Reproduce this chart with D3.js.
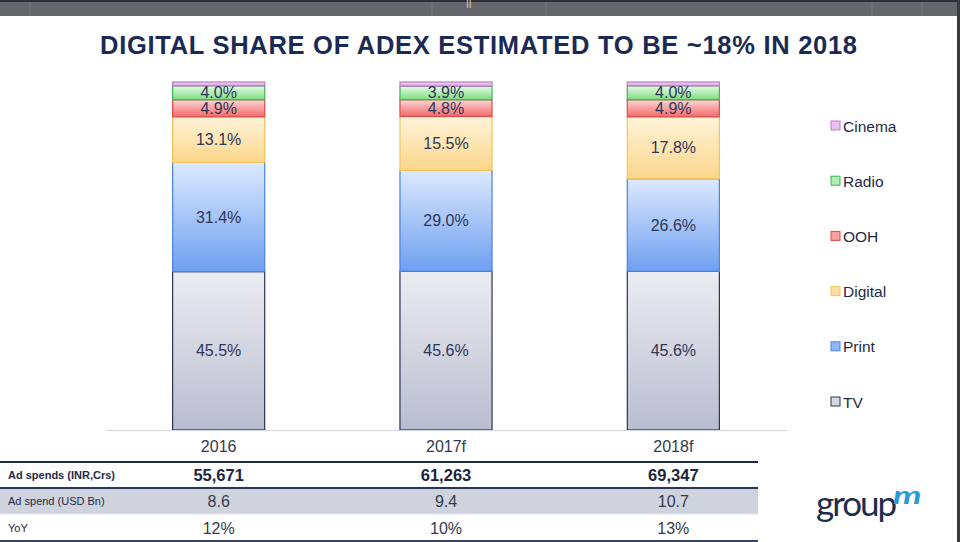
<!DOCTYPE html>
<html><head><meta charset="utf-8">
<script src="https://cdn.jsdelivr.net/npm/d3@7/dist/d3.min.js"></script>
<style>
html,body{margin:0;padding:0;background:#fff;}
svg{display:block;font-family:"Liberation Sans",Arial,sans-serif;}
</style></head>
<body><svg id="c" width="960" height="542"></svg>
<script>
const categories = ["2016", "2017f", "2018f"];
const seriesNames = ["TV", "Print", "Digital", "OOH", "Radio", "Cinema"];
const tv      = [45.5, 45.6, 45.6];
const print   = [31.4, 29.0, 26.6];
const digital = [13.1, 15.5, 17.8];
const ooh     = [4.9, 4.8, 4.9];
const radio   = [4.0, 3.9, 4.0];
const cinema  = [1.1, 1.2, 1.1];
const rowLabels = ["Ad spends (INR,Crs)", "Ad spend (USD Bn)", "YoY"];
const adSpendINR = ["55,671", "61,263", "69,347"];
const adSpendUSD = ["8.6", "9.4", "10.7"];
const yoy = ["12%", "10%", "13%"];

const title = "DIGITAL SHARE OF ADEX ESTIMATED TO BE ~18% IN 2018";

const styles = {
  TV:      {top:"#ececf2", bot:"#b9bdd0", stroke:"#2b3352", legFill:"#d6d8e2"},
  Print:   {top:"#dde9fe", bot:"#6e9ff0", stroke:"#4a82e2", legFill:"#8fb6f5"},
  Digital: {top:"#fff4d9", bot:"#fcd68b", stroke:"#f1c45c", legFill:"#fde0a0"},
  OOH:     {top:"#fdd6d6", bot:"#f26a6a", stroke:"#e34a4a", legFill:"#f7a0a0"},
  Radio:   {top:"#e6fbe6", bot:"#7ddc80", stroke:"#3db352", legFill:"#b5ecb5"},
  Cinema:  {top:"#f3d6f3", bot:"#dca0e0", stroke:"#b97cc8", legFill:"#ebc0ee"}
};

const table = categories.map((c, i) => ({
  cat: c, TV: tv[i], Print: print[i], Digital: digital[i], OOH: ooh[i], Radio: radio[i], Cinema: cinema[i]
}));

const svg = d3.select("#c");
const defs = svg.append("defs");
seriesNames.forEach(s => {
  const g = defs.append("linearGradient").attr("id", "g-" + s)
    .attr("x1", 0).attr("y1", 0).attr("x2", 0).attr("y2", 1);
  g.append("stop").attr("offset", "0%").attr("stop-color", styles[s].top);
  g.append("stop").attr("offset", "100%").attr("stop-color", styles[s].bot);
});

// top viewer strip
svg.append("rect").attr("x", 0).attr("y", 0).attr("width", 960).attr("height", 16).attr("fill", "#646669");
svg.append("rect").attr("x", 0).attr("y", 0).attr("width", 960).attr("height", 2).attr("fill", "#2f3033");
[30, 432, 546, 872, 922].forEach(x => svg.append("line").attr("x1", x).attr("x2", x).attr("y1", 2).attr("y2", 16)
  .attr("stroke", "#74767a").attr("stroke-width", 1));
svg.append("text").attr("x", 466).attr("y", 8).attr("fill", "#d0d0d0").attr("font-size", 10).text("II");
svg.append("rect").attr("x", 957).attr("y", 0).attr("width", 3).attr("height", 542).attr("fill", "#3a3b3e");

// title
svg.append("text").attr("x", 100).attr("y", 54)
  .attr("font-size", 25.5).attr("font-weight", "bold").attr("fill", "#1b2a55")
  .attr("textLength", 757).attr("lengthAdjust", "spacing").text(title);

const x = d3.scaleBand().domain(categories).range([105, 787]).paddingInner(0.595).paddingOuter(0.2975);
const y = d3.scaleLinear().domain([0, 100]).range([430, 82]);

const stack = d3.stack().keys(seriesNames);
const layers = stack(table);

const gl = svg.append("g").selectAll("g").data(layers).join("g");
gl.selectAll("rect").data(d => d.map(v => ({key: d.key, v}))).join("rect")
  .attr("x", d => x(d.v.data.cat))
  .attr("width", x.bandwidth())
  .attr("y", d => y(d.v[1]))
  .attr("height", d => y(d.v[0]) - y(d.v[1]))
  .attr("fill", d => `url(#g-${d.key})`)
  .attr("stroke", d => styles[d.key].stroke)
  .attr("stroke-width", 1.2);

// labels
layers.forEach(layer => {
  if (layer.key === "Cinema") return;
  layer.forEach(v => {
    svg.append("text")
      .attr("x", x(v.data.cat) + x.bandwidth() / 2)
      .attr("y", y((v[0] + v[1]) / 2) + 5.5)
      .attr("text-anchor", "middle").attr("font-size", 16).attr("fill", "#2e3658")
      .text(v.data[layer.key].toFixed(1) + "%");
  });
});

// axis baseline
const axis = svg.append("g").attr("transform", "translate(0,430)")
  .call(d3.axisBottom(x).tickSize(0).tickPadding(16));
axis.select(".domain").attr("stroke", "#d3d7e3").attr("stroke-width", 1.2);
axis.selectAll(".tick text").attr("font-size", 16).attr("fill", "#333a4d")
  .attr("font-family", "Liberation Sans, Arial, sans-serif").attr("dy", "0.35em");

// legend
const legendOrder = seriesNames.slice().reverse();
const ly = d3.scalePoint().domain(legendOrder).range([126, 402]);
const lg = svg.append("g").selectAll("g").data(legendOrder).join("g")
  .attr("transform", d => `translate(831,${ly(d)})`);
lg.append("rect").attr("x", 0).attr("y", -5).attr("width", 9).attr("height", 9)
  .attr("fill", d => styles[d].legFill).attr("stroke", d => styles[d].stroke).attr("stroke-width", 1);
lg.append("text").attr("x", 12).attr("y", 5.5).attr("font-size", 15.5).attr("fill", "#1f2a48").text(d => d);

// table
const rowY = [475, 501, 528];
svg.append("rect").attr("x", 0).attr("y", 488).attr("width", 758).attr("height", 26).attr("fill", "#cfd3de");
[[462, 2, "#1f2a48"], [488, 2, "#2b3555"], [514, 1, "#e6e8ee"], [541, 2, "#3a4566"]].forEach(([yy, w, c]) =>
  svg.append("line").attr("x1", 0).attr("x2", 758).attr("y1", yy).attr("y2", yy).attr("stroke", c).attr("stroke-width", w));
rowLabels.forEach((t, i) => {
  svg.append("text").attr("x", 8).attr("y", rowY[i] + 4).attr("font-size", 11)
    .attr("font-weight", i === 0 ? "bold" : "normal").attr("fill", "#1f2a48").text(t);
});
[adSpendINR, adSpendUSD, yoy].forEach((arr, i) => {
  categories.forEach((c, j) => {
    svg.append("text").attr("x", x(c) + x.bandwidth() / 2).attr("y", rowY[i] + 6)
      .attr("text-anchor", "middle")
      .attr("font-size", i === 0 ? 16.5 : 16).attr("font-weight", i === 0 ? "bold" : "normal")
      .attr("fill", i === 0 ? "#1b2540" : "#333a4d").text(arr[j]);
  });
});

// groupm logo
svg.append("text").attr("x", 816).attr("y", 516).attr("font-size", 35).attr("font-family", "Lato, 'Open Sans', sans-serif")
  .attr("fill", "#1f2c4c").attr("letter-spacing", -2).text("group");
svg.append("text").attr("transform", "translate(893,504) scale(1.5,1)").attr("font-size", 24).attr("font-style", "italic")
  .attr("font-weight", "bold")
  .attr("font-family", "Lato, 'Open Sans', sans-serif").attr("fill", "#2a9ad8").text("m");
</script></body></html>
